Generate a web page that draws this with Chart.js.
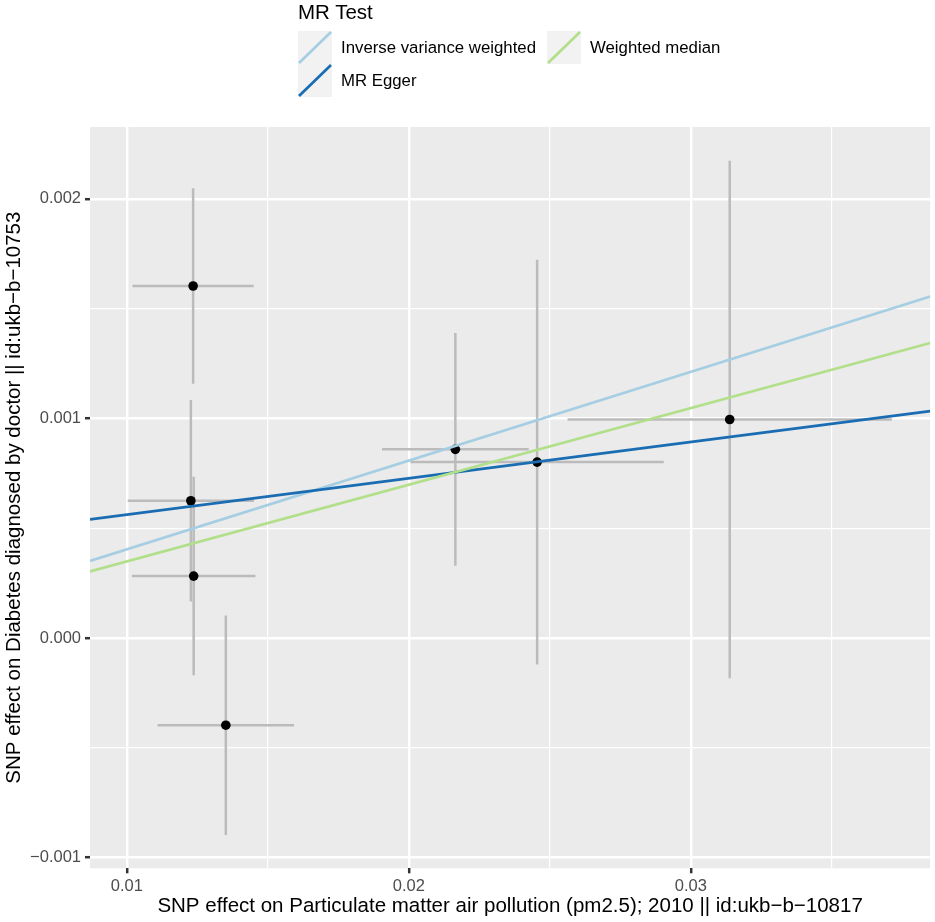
<!DOCTYPE html>
<html>
<head>
<meta charset="utf-8">
<script src="https://cdn.jsdelivr.net/npm/chart.js@4.4.0/dist/chart.umd.min.js"></script>
<style>
  html, body { margin: 0; padding: 0; background: #ffffff; }
  #wrap { position: relative; width: 935px; height: 922px; }
  #c { position: absolute; left: 0; top: 0; }
  .lg { position: absolute; font-family: "Liberation Sans", Arial, sans-serif; color: #000; white-space: nowrap; }
  .lg-title { font-size: 20.5px; line-height: 20px; }
  .lg-text { font-size: 16.8px; line-height: 33px; height: 33px; }
  .lg-key { position: absolute; width: 34px; height: 33px; }
</style>
</head>
<body>
<div id="wrap">
  <canvas id="c" width="935" height="922"></canvas>
  <div id="legend"></div>
</div>
<script>
// ---- data ----
const xValues = [0.01235, 0.01227, 0.01237, 0.01351, 0.02165, 0.02455, 0.03138];
const yValues = [0.001603, 0.000625, 0.000282, -0.000397, 0.000859, 0.000801, 0.000995];
const xErrors = [0.00215, 0.00224, 0.00219, 0.00242, 0.00260, 0.00449, 0.00575];
const yErrors = [0.000445, 0.000459, 0.000452, 0.000500, 0.000530, 0.000922, 0.001178];

const methods = ['Inverse variance weighted', 'MR Egger', 'Weighted median'];
const slopes = [0.0404, 0.01655, 0.0349];
const intercepts = [0, 0.000396, 0];
const methodColors = ['#A6CEE3', '#1A6DB3', '#B2DF8A'];

const xTickLabels = ['0.01', '0.02', '0.03'];
const yTickLabels = ['\u22120.001', '0.000', '0.001', '0.002'];

const legendTitle = 'MR Test';
const xTitle = 'SNP effect on Particulate matter air pollution (pm2.5); 2010 || id:ukb\u2212b\u221210817';
const yTitle = 'SNP effect on Diabetes diagnosed by doctor || id:ukb\u2212b\u221210753';

// ---- axis limits ----
const X_MIN = 0.008693, X_MAX = 0.03849;
const Y_MIN = -0.0010487, Y_MAX = 0.002327;

const FONT = '"Liberation Sans", Arial, sans-serif';

function isMult(v, step) {
  const r = v / step;
  return Math.abs(r - Math.round(r)) < 1e-6;
}
function xLabel(v) {
  if (!isMult(v, 0.01)) return '';
  const idx = Math.round(v / 0.01) - 1;
  return xTickLabels[idx] !== undefined ? xTickLabels[idx] : '';
}
function yLabel(v) {
  if (!isMult(v, 0.001)) return '';
  const idx = Math.round(v / 0.001) + 1;
  return yTickLabels[idx] !== undefined ? yTickLabels[idx] : '';
}

const datasets = [];

// regression lines (drawn on top)
const lineOrder = [2, 1, 0];
methods.forEach((m, i) => {
  datasets.push({
    label: m,
    data: [
      { x: X_MIN, y: intercepts[i] + slopes[i] * X_MIN },
      { x: X_MAX, y: intercepts[i] + slopes[i] * X_MAX }
    ],
    showLine: true,
    borderColor: methodColors[i],
    borderWidth: 2.7,
    pointRadius: 0,
    order: lineOrder[i]
  });
});

// points
datasets.push({
  label: 'SNPs',
  data: xValues.map((x, i) => ({ x: x, y: yValues[i] })),
  showLine: false,
  pointRadius: 4.8,
  pointBackgroundColor: '#000000',
  pointBorderWidth: 0,
  order: 3
});

// error bars
xValues.forEach((x, i) => {
  datasets.push({
    label: 'xerr' + i,
    data: [{ x: x - xErrors[i], y: yValues[i] }, { x: x + xErrors[i], y: yValues[i] }],
    showLine: true, borderColor: '#BBBBBB', borderWidth: 2.5, pointRadius: 0, order: 4
  });
  datasets.push({
    label: 'yerr' + i,
    data: [{ x: x, y: yValues[i] - yErrors[i] }, { x: x, y: yValues[i] + yErrors[i] }],
    showLine: true, borderColor: '#BBBBBB', borderWidth: 2.5, pointRadius: 0, order: 4
  });
});

const panelBg = {
  id: 'panelBg',
  beforeDraw(chart) {
    const { ctx, chartArea: a } = chart;
    ctx.save();
    ctx.fillStyle = '#EBEBEB';
    ctx.fillRect(a.left, a.top, a.right - a.left, a.bottom - a.top);
    ctx.restore();
  }
};

new Chart(document.getElementById('c'), {
  type: 'scatter',
  data: { datasets },
  plugins: [panelBg],
  options: {
    responsive: false,
    animation: false,
    events: [],
    layout: { padding: { top: 127, right: 3.5, left: 0, bottom: 0 } },
    plugins: { legend: { display: false }, tooltip: { enabled: false } },
    scales: {
      x: {
        type: 'linear',
        min: X_MIN, max: X_MAX,
        afterFit(s) { s.height = 53.7; },
        border: { display: false },
        grid: {
          color: '#FFFFFF',
          lineWidth: ctx => (ctx.tick && isMult(ctx.tick.value, 0.01)) ? 2.4 : 1.2,
          tickColor: ctx => (ctx.tick && isMult(ctx.tick.value, 0.01)) ? '#333333' : 'rgba(0,0,0,0)',
          tickWidth: 2.5,
          tickLength: 5,
          drawTicks: true
        },
        ticks: {
          stepSize: 0.005, includeBounds: false, autoSkip: false, maxRotation: 0,
          padding: 3, color: '#4D4D4D', font: { family: FONT, size: 16.5 },
          callback: v => xLabel(v)
        },
        title: {
          display: true, text: xTitle, color: '#000000',
          font: { family: FONT, size: 20.5 }, padding: { top: 0, bottom: 3.5 }
        }
      },
      y: {
        type: 'linear',
        min: Y_MIN, max: Y_MAX,
        afterFit(s) { s.width = 90; },
        border: { display: false },
        grid: {
          color: '#FFFFFF',
          lineWidth: ctx => (ctx.tick && isMult(ctx.tick.value, 0.001)) ? 2.4 : 1.2,
          tickColor: ctx => (ctx.tick && isMult(ctx.tick.value, 0.001)) ? '#333333' : 'rgba(0,0,0,0)',
          tickWidth: 2.5,
          tickLength: 5,
          drawTicks: true
        },
        ticks: {
          stepSize: 0.0005, includeBounds: false, autoSkip: false,
          padding: 4, color: '#4D4D4D', font: { family: FONT, size: 16.5 },
          callback: v => yLabel(v)
        },
        title: {
          display: true, text: yTitle, color: '#000000',
          font: { family: FONT, size: 20.5 }, padding: { top: 2, bottom: 0 }
        }
      }
    }
  }
});

// ---- legend (HTML) ----
const legendEl = document.getElementById('legend');
function addDiv(cls, left, top, text) {
  const d = document.createElement('div');
  d.className = 'lg ' + cls;
  d.style.left = left + 'px';
  d.style.top = top + 'px';
  if (text !== undefined) d.textContent = text;
  legendEl.appendChild(d);
  return d;
}
addDiv('lg-title', 298, 2, legendTitle);
const keyPos = [[298, 30.5], [298, 63.5], [547, 30.5]];
methods.forEach((m, i) => {
  const [kx, ky] = keyPos[i];
  const k = document.createElement('div');
  k.className = 'lg-key';
  k.style.left = kx + 'px';
  k.style.top = ky + 'px';
  k.innerHTML = '<svg width="34" height="33" xmlns="http://www.w3.org/2000/svg">' +
    '<rect x="0" y="0" width="34" height="33" fill="#F2F2F2"/>' +
    '<line x1="1" y1="32" x2="33" y2="1" stroke="' + methodColors[i] + '" stroke-width="2.7"/></svg>';
  legendEl.appendChild(k);
  addDiv('lg-text', kx + 43, ky, m);
});
</script>
</body>
</html>
